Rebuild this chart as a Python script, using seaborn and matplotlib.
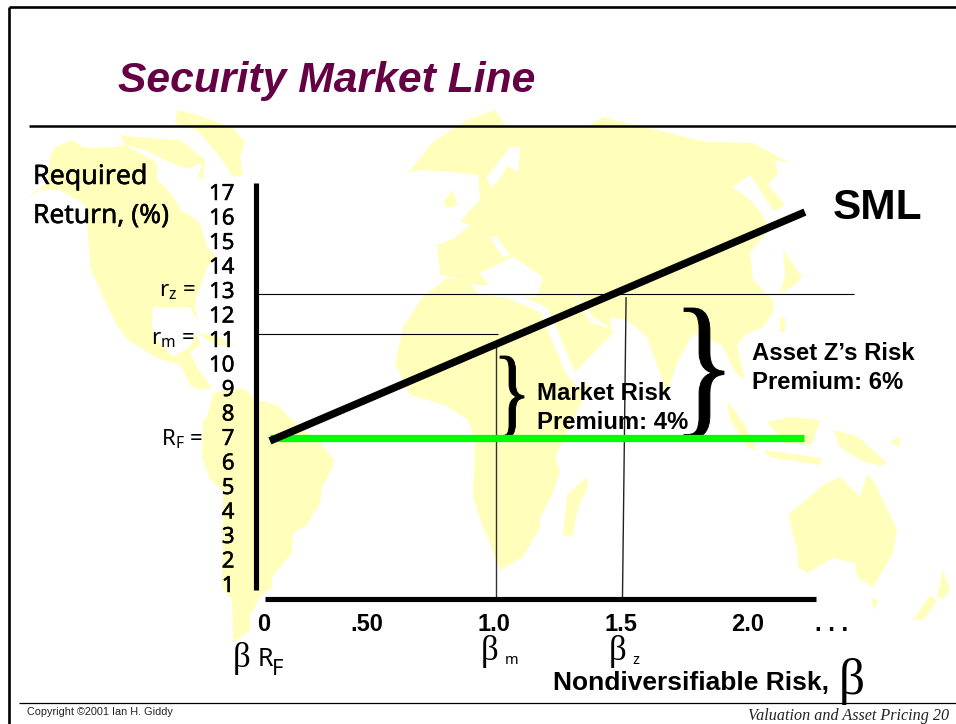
import matplotlib
matplotlib.use("Agg")
import matplotlib.pyplot as plt
import matplotlib.patheffects as pe
from matplotlib.patches import Polygon, PathPatch
from matplotlib.textpath import TextPath
from matplotlib.font_manager import FontProperties
from matplotlib.transforms import Affine2D
import seaborn as sns

# ---- chart values ----
y_ticks = list(range(1, 18))
y_labels = [str(v) for v in y_ticks]
x_tick_pos = [0.03, 0.46, 0.99, 1.52, 2.05, 2.40]
x_labels = ["0", ".50", "1.0", "1.5", "2.0", ". . ."]
sml_beta = [0.058, 2.287]
sml_return = [6.84, 16.18]
rf_beta = [0.058, 2.283]
rf_return = [6.96, 6.96]
rz_beta = [0.008, 2.492]
rz_return = [12.82, 12.82]
rm_beta = [0.008, 1.008]
rm_return = [11.19, 11.19]
bm_beta = [1.0, 1.0]
bm_return = [10.76, 0.43]
bz_beta = [1.542, 1.527]
bz_return = [12.71, 0.43]

# ---- decorative world map outlines, in pixels of the slide ----
map_land = [
 [(177,110),(197,115),(233,128),(245,142),(240,157),(243,175),(233,177),(220,157),(197,130),(175,123)],
 [(25,199),(47,183),(50,157),(55,147),(72,140),(83,148),(107,148),(125,145),(147,157),(157,163),(157,180),(177,197),(180,210),(190,215),(200,223),(207,247),(217,257),(207,267),(203,280),(197,293),(195,307),(198,320),(190,313),(173,307),(153,307),(152,330),(160,343),(173,357),(190,347),(197,333),(200,345),(190,352),(197,367),(212,388),(200,390),(190,385),(180,365),(157,358),(128,340),(118,327),(103,297),(90,267),(90,258),(88,235),(85,205),(60,190),(40,190)],
 [(120,135),(145,138),(180,140),(205,160),(203,180),(185,168),(165,160),(145,150),(125,145)],
 [(197,333),(215,335),(235,345),(215,345)],
 [(203,420),(207,417),(213,393),(243,388),(257,400),(277,405),(292,420),(320,443),(334,460),(330,473),(322,487),(320,503),(307,525),(293,533),(292,553),(280,567),(272,577),(272,587),(260,597),(250,617),(250,630),(233,643),(232,600),(222,587),(223,490),(210,480),(202,457)],
 [(408,173),(433,142),(467,120),(495,110),(505,125),(540,125),(590,125),(603,117),(627,123),(707,142),(753,143),(790,163),(775,160),(778,173),(768,185),(785,205),(763,217),(770,228),(750,253),(753,280),(773,300),(773,313),(763,327),(745,335),(737,345),(745,380),(735,372),(722,345),(693,333),(677,363),(667,393),(647,337),(627,320),(610,317),(613,333),(575,372),(548,308),(530,300),(500,285),(475,285),(465,280),(440,275),(437,245),(455,238),(470,225),(460,222),(470,210),(480,200),(478,175),(450,172),(420,170)],
 [(443,203),(452,190),(458,205),(448,208)],
 [(395,363),(403,327),(423,297),(447,278),(467,280),(480,295),(505,297),(540,312),(565,372),(578,388),(590,385),(568,430),(555,458),(560,472),(552,495),(540,518),(540,527),(523,557),(500,570),(487,537),(478,513),(473,497),(475,440),(468,420),(445,405),(410,395)],
 [(587,477),(588,488),(578,507),(572,537),(563,535),(567,495),(580,483)],
 [(788,515),(808,498),(823,485),(840,477),(860,497),(867,475),(875,483),(897,530),(893,553),(873,587),(857,577),(855,563),(833,558),(807,573),(798,567),(797,550)],
 [(870,598),(878,600),(875,610)],
 [(943,570),(950,590),(942,600),(937,595)],
 [(913,620),(930,595),(937,600),(923,620)],
 [(727,400),(745,425),(757,450),(748,448),(730,420)],
 [(763,450),(822,458),(820,465),(770,457)],
 [(767,422),(790,417),(820,420),(812,445),(785,443)],
 [(833,430),(857,436),(887,463),(880,466),(860,460),(840,447)],
 [(890,442),(900,436),(900,447)],
 [(780,317),(785,317),(785,332),(780,332)],
 [(783,250),(802,277),(795,285),(780,293),(785,275)],
]
map_water = [
 [(513,257),(543,277),(537,297),(497,297),(480,273)],
 [(490,237),(497,237),(510,255),(503,258)],
 [(510,147),(520,147),(518,172),(508,166),(493,188),(486,178)],
 [(732,187),(750,175),(775,213),(767,220),(747,197)],
 [(573,290),(593,317),(613,330),(590,322)],
 [(157,177),(183,170),(203,163),(187,200),(183,213),(173,197)],
 [(153,307),(190,307),(197,320),(195,333),(175,350),(160,343),(152,330)],
]

W, H = 956, 724
sns.set_theme(style="white")
plt.rcParams["mathtext.fontset"] = "custom"
plt.rcParams["mathtext.rm"] = "Noto Sans"
fig = plt.figure(figsize=(W / 100, H / 100), dpi=100, facecolor="white")

# background layer in slide pixels
bg = fig.add_axes([0, 0, 1, 1], zorder=0)
bg.set_xlim(0, W); bg.set_ylim(H, 0); bg.axis("off")
LAND = "#FFFFBB"
for p in map_land:
    bg.add_patch(Polygon(p, closed=True, fc=LAND, ec="none"))
for p in map_water:
    bg.add_patch(Polygon(p, closed=True, fc="white", ec="none"))
bg.plot([9.5, 9.5], [7, H], color="black", lw=1.9, solid_capstyle="butt")
bg.plot([9, W], [7, 7], color="black", lw=1.9, solid_capstyle="butt")
bg.plot([29, W], [126, 126], color="black", lw=1.8, solid_capstyle="butt")
bg.plot([19, W], [702.7, 702.7], color="black", lw=0.9, solid_capstyle="butt")

# chart axes
left, right, top, bottom = 256, 956, 183, 598.7
ax = fig.add_axes([left / W, 1 - bottom / H, (right - left) / W, (bottom - top) / H], zorder=1)
ax.patch.set_alpha(0)
ax.set_xlim(0, (right - left) / 240)
ax.set_ylim((608.5 - bottom) / 24.5, (608.5 - top) / 24.5)

def line(x, y, color, lw):
    sns.lineplot(x=x, y=y, ax=ax, color=color, linewidth=lw, sort=False,
                 estimator=None, solid_capstyle="butt", clip_on=False)

line(rz_beta, rz_return, "black", 0.8)
line(rm_beta, rm_return, "black", 0.8)
line(bm_beta, bm_return, "#333333", 1.0)
line(bz_beta, bz_return, "#222222", 1.0)
line(rf_beta, rf_return, "#00FF00", 5.2)
line(sml_beta, sml_return, "black", 5.4)

for s in ("top", "right"):
    ax.spines[s].set_visible(False)
for s, lo, hi in (("left", 0.755, (608.5 - top) / 24.5), ("bottom", 0.0375, 2.333)):
    ax.spines[s].set_linewidth(3.7)
    ax.spines[s].set_color("black")
    ax.spines[s].set_capstyle("butt")
    ax.spines[s].set_bounds(lo, hi)

stroke = [pe.withStroke(linewidth=0.35, foreground="black")]
ax.set_yticks(y_ticks)
ax.set_yticklabels(y_labels, fontfamily="Noto Sans", fontsize=16, color="black", path_effects=stroke)
ax.tick_params(axis="y", length=0, pad=15.5)
ax.set_xticks(x_tick_pos)
ax.set_xticklabels(x_labels, fontfamily="Liberation Sans", fontweight="bold", fontsize=17, color="black")
ax.tick_params(axis="x", length=0, pad=10)
ax.grid(False)

def T(x, y, s, **kw):
    kw.setdefault("va", "baseline")
    kw.setdefault("color", "black")
    return fig.text(x / W, 1 - y / H, s, zorder=5, **kw)

BOLD = dict(family="Liberation Sans", weight="bold")
T(118, 92, "Security Market Line", style="italic", fontsize=30.7, color="#660044", **BOLD)
T(33, 184, "Required", family="Noto Sans", fontsize=19.3, path_effects=stroke)
T(33, 223, "Return, (%)", family="Noto Sans", fontsize=19, path_effects=stroke)
T(195, 296, r"r$_{\mathrm{z}}$ =", ha="right", family="Noto Sans", fontsize=16)
T(195, 344, r"r$_{\mathrm{m}}$ =", ha="right", family="Noto Sans", fontsize=16)
T(203, 445, r"R$_{\mathrm{F}}$ =", ha="right", family="Noto Sans", fontsize=16)
T(833, 219, "SML", fontsize=30.5, **BOLD)
T(537, 400, "Market Risk", fontsize=17.2, **BOLD)
T(537, 429, "Premium: 4%", fontsize=17.2, **BOLD)
T(752, 360, "Asset Z\u2019s Risk", fontsize=17.2, **BOLD)
T(752, 389, "Premium: 6%", fontsize=17.2, **BOLD)
T(553, 690, "Nondiversifiable Risk,", fontsize=19, **BOLD)
T(839, 694, "\u03b2", family="Liberation Serif", fontsize=37)
T(233, 667, "\u03b2", family="Liberation Serif", fontsize=25)
T(258, 666, "R", family="Noto Sans", fontsize=18)
T(272, 675, "F", family="Noto Sans", fontsize=16)
T(481, 660, "\u03b2", family="Liberation Serif", fontsize=25)
T(505, 664, "m", family="Noto Sans", fontsize=10.5)
T(609, 660, "\u03b2", family="Liberation Serif", fontsize=25)
T(632, 664, "z", family="Noto Sans", fontsize=10.5)
T(27, 715, "Copyright \u00a92001 Ian H. Giddy", family="Liberation Sans", fontsize=7.8, color="#222222")
T(949, 720, "Valuation and Asset Pricing 20", ha="right", family="Liberation Serif", style="italic",
  fontsize=11.6, color="#222222")

# curly braces stretched to their box
def brace(x0, x1, y0, y1):
    tp = TextPath((0, 0), "}", size=100, prop=FontProperties(family="Liberation Serif"))
    b = tp.get_extents()
    tr = (Affine2D().translate(-b.x0, -b.y0).scale((x1 - x0) / b.width, -(y1 - y0) / b.height)
          .translate(x0, y1))
    bg.add_patch(PathPatch(tr.transform_path(tp), fc="black", ec="black", lw=0.6, zorder=4))

brace(500, 524, 356, 438)
brace(684, 724, 308, 438)

fig.savefig("out.png", dpi=100)
